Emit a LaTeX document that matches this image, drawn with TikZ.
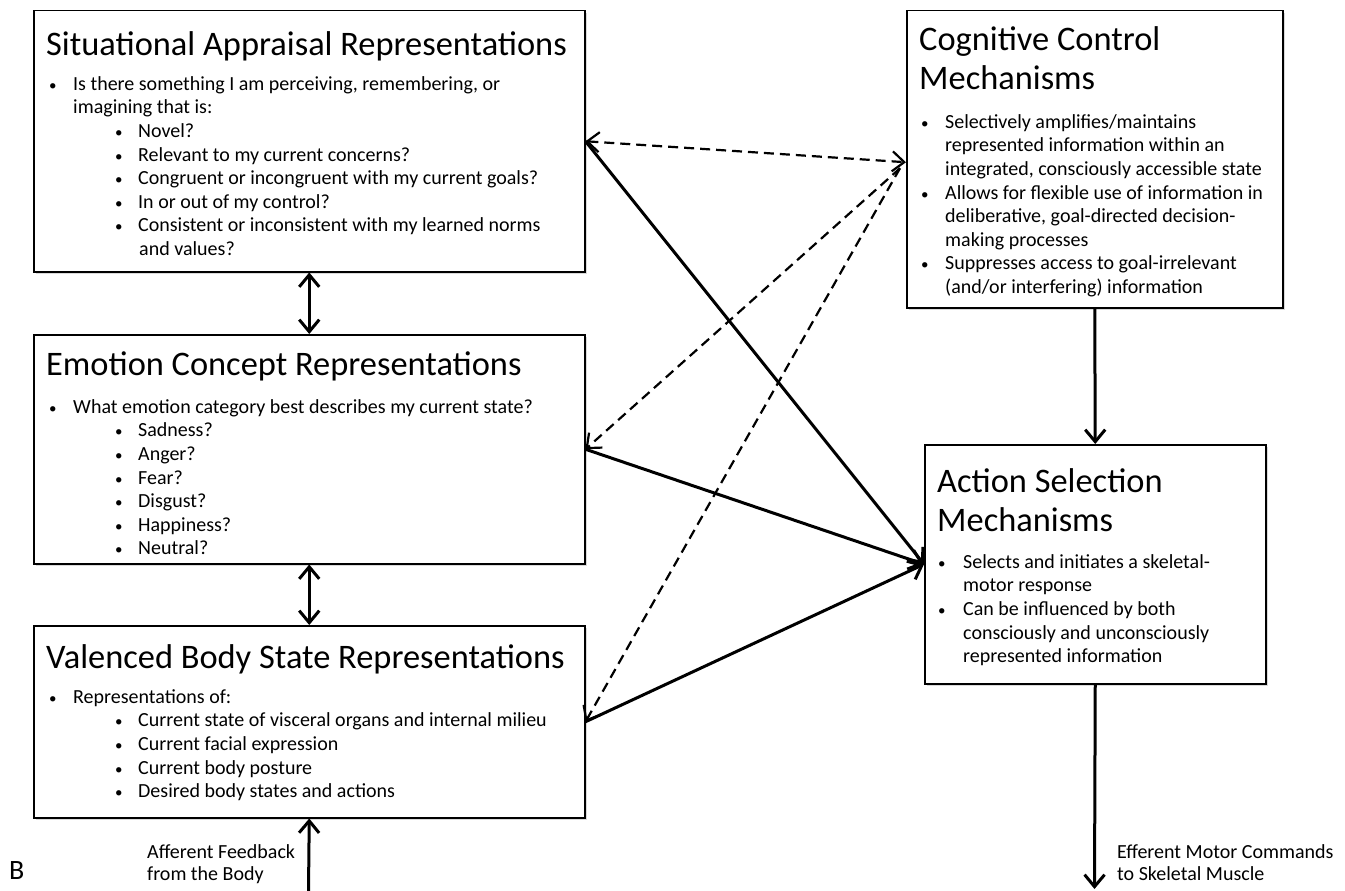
\documentclass[tikz,border=0pt]{standalone}
\usepackage{fontspec}
\setmainfont{Carlito}
\usetikzlibrary{arrows.meta,positioning,shadows}

\tikzset{
  box/.style={draw, line width=1.5pt, fill=white, anchor=north west, inner sep=0pt,
    drop shadow={shadow xshift=2pt,shadow yshift=-2pt,opacity=0.3}},
  ttl/.style={anchor=north west, inner sep=0pt, align=left, font=\fontsize{34.4}{39.5}\selectfont},
  txt/.style={anchor=north west, inner sep=0pt, align=left, font=\fontsize{20}{23.6}\selectfont},
  link/.style={line width=3pt, -{Straight Barb[length=12pt,width=20pt]}},
  dbl/.style={line width=3pt, {Straight Barb[length=12pt,width=20pt]}-{Straight Barb[length=12pt,width=20pt]}},
  dlink/.style={line width=2.2pt, dash pattern=on 10pt off 6pt, -{Straight Barb[length=12pt,width=20pt]}},
}
% first line of a text node gets a fixed height, so that top = baseline - height
\newcommand{\tstrut}{\rule{0pt}{30pt}}
\newcommand{\bstrut}{\rule{0pt}{18pt}}
\newcommand{\bdot}{{\fontsize{15}{15}\selectfont\textbullet}}
\newcommand{\bl}{\makebox[24pt][l]{\bdot}}
\newcommand{\blb}{\hspace*{66pt}\makebox[23pt][l]{\bdot}}
\newcommand{\ind}{\hspace*{24pt}}

\begin{document}
\begin{tikzpicture}[x=1pt,y=-1pt]
  \useasboundingbox (0,0) rectangle (1345,891);

  % left column
  \node[box, minimum width=551, minimum height=261] (sit) at (33,10) {};
  \node[ttl] (sittitle) at (46,25) {\tstrut Situational Appraisal Representations};
  \node[txt] (sittext) at (49,72) {\bstrut\bl Is there something I am perceiving, remembering, or\\
    \ind imagining that is:\\
    \blb Novel?\\
    \blb Relevant to my current concerns?\\
    \blb Congruent or incongruent with my current goals?\\
    \blb In or out of my control?\\
    \blb Consistent or inconsistent with my learned norms\\
    \hspace*{90pt}and values?};

  \node[box, minimum width=551, minimum height=229] (emo) at (33,334) {};
  \node[ttl] (emotitle) at (46,345) {\tstrut Emotion Concept Representations};
  \node[txt] (emotext) at (49,395) {\bstrut\bl What emotion category best describes my current state?\\
    \blb Sadness?\\
    \blb Anger?\\
    \blb Fear?\\
    \blb Disgust?\\
    \blb Happiness?\\
    \blb Neutral?};

  \node[box, minimum width=551, minimum height=192] (val) at (33,625) {};
  \node[ttl] (valtitle) at (46,638) {\tstrut Valenced Body State Representations};
  \node[txt] (valtext) at (49,685) {\bstrut\bl Representations of:\\
    \blb Current state of visceral organs and internal milieu\\
    \blb Current facial expression\\
    \blb Current body posture\\
    \blb Desired body states and actions};

  % right column
  \node[box, minimum width=376, minimum height=297] (cog) at (906,10) {};
  \node[ttl] (cogtitle) at (919,20) {\tstrut Cognitive Control\\Mechanisms};
  \node[txt] (cogtext) at (921,110) {\bstrut\bl Selectively amplifies/maintains\\
    \ind represented information within an\\
    \ind integrated, consciously accessible state\\
    \bl Allows for flexible use of information in\\
    \ind deliberative, goal-directed decision-\\
    \ind making processes\\
    \bl Suppresses access to goal-irrelevant\\
    \ind (and/or interfering) information};

  \node[box, minimum width=341, minimum height=239] (act) at (924,444) {};
  \node[ttl] (acttitle) at (937,462) {\tstrut Action Selection\\Mechanisms};
  \node[txt] (acttext) at (938,550) {\bstrut\makebox[25pt][l]{\bdot}Selects and initiates a skeletal-\\
    \hspace*{25pt}motor response\\
    \makebox[25pt][l]{\bdot}Can be influenced by both\\
    \hspace*{25pt}consciously and unconsciously\\
    \hspace*{25pt}represented information};

  % loose ends
  \coordinate (bodyin) at (308.5,891);
  \coordinate (muscle) at (1094.5,889);
  \coordinate (cogin) at ([xshift=-6pt,yshift=-9pt]cog.west);

  \node[txt, font=\fontsize{20}{22.5}\selectfont] (afflabel) at (147,840) {\bstrut Afferent Feedback\\from the Body};
  \node[txt, font=\fontsize{20}{22.5}\selectfont] (efflabel) at (1117,840) {\bstrut Efferent Motor Commands\\to Skeletal Muscle};
  \node[anchor=base west, inner sep=0pt, font=\fontsize{28}{30}\selectfont] (panel) at (9,879) {B};

  % connectors
  \draw[dbl] (sit.south) -- (emo.north);
  \draw[dbl] (emo.south) -- (val.north);
  \draw[link] (bodyin) -- (val.south);
  \draw[link] (cog.south) -- (act.north);
  \draw[link] (act.south) -- (muscle);

  \draw[link] (sit.east) -- (act.west);
  \draw[link] (emo.east) -- (act.west);
  \draw[link] (val.east) -- (act.west);

  \draw[dlink, {Straight Barb[length=12pt,width=20pt]}-{Straight Barb[length=12pt,width=20pt]}] (sit.east) -- ([yshift=-3pt]cog.west);
  \draw[dlink] (cogin) -- (emo.east);
  \draw[dlink] (cogin) -- (val.east);
\end{tikzpicture}
\end{document}
